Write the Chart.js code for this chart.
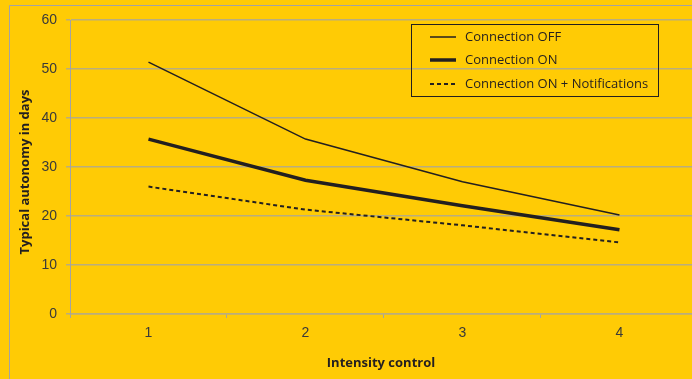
<!DOCTYPE html>
<html>
<head>
<meta charset="utf-8">
<script src="https://cdn.jsdelivr.net/npm/chart.js@4/dist/chart.umd.min.js"></script>
<style>
  html, body { margin: 0; padding: 0; background: #FFCB05; }
  #wrap { width: 692px; height: 379px; position: relative; }
</style>
</head>
<body>
<div id="wrap"><canvas id="chart" width="692" height="379"></canvas></div>
<script>
// Battery autonomy per intensity setting
const intensity = [1, 2, 3, 4];
const connectionOff = [51.4, 35.7, 27.0, 20.2];
const connectionOn = [35.7, 27.3, 22.1, 17.2];
const connectionOnNotif = [26.0, 21.3, 18.1, 14.6];
const seriesNames = ['Connection OFF', 'Connection ON', 'Connection ON + Notifications'];
const yTickValues = [0, 10, 20, 30, 40, 50, 60];
const yTitle = 'Typical autonomy in days';
const xTitle = 'Intensity control';

const INK = '#231f20';
const GRID = '#b9ad7e';
const AXIS = '#a3a3a3';
const BG = '#FFCB05';

const toPoints = vals => intensity.map((c, i) => ({ x: c, y: vals[i] }));

// Background fill and the thin outer frame
const framePlugin = {
  id: 'frame',
  beforeDraw(chart) {
    const ctx = chart.ctx;
    ctx.save();
    ctx.fillStyle = BG;
    ctx.fillRect(0, 0, chart.width, chart.height);
    ctx.strokeStyle = AXIS;
    ctx.lineWidth = 1;
    ctx.beginPath();
    ctx.moveTo(9.5, chart.height);
    ctx.lineTo(9.5, 5.5);
    ctx.lineTo(chart.width, 5.5);
    ctx.stroke();
    ctx.restore();
  }
};

// Rotated y-axis title, sitting slightly below the plot's vertical centre
const yTitlePlugin = {
  id: 'yTitle',
  afterDraw(chart, args, opts) {
    const ctx = chart.ctx;
    ctx.save();
    ctx.translate(opts.x, opts.y);
    ctx.rotate(-Math.PI / 2);
    ctx.font = 'bold 13px "Open Sans"';
    ctx.fillStyle = INK;
    ctx.textAlign = 'center';
    ctx.textBaseline = 'middle';
    ctx.fillText(yTitle, 0, 0);
    ctx.restore();
  }
};

// Boxed legend in the upper right of the plot
const boxLegendPlugin = {
  id: 'boxLegend',
  afterDatasetsDraw(chart, args, opts) {
    const ctx = chart.ctx;
    ctx.save();
    ctx.strokeStyle = INK;
    ctx.lineWidth = 1;
    ctx.strokeRect(opts.x + 0.5, opts.y + 0.5, opts.w, opts.h);
    ctx.font = '13px "Open Sans"';
    ctx.textBaseline = 'middle';
    ctx.fillStyle = INK;
    chart.data.datasets.forEach((ds, i) => {
      const ry = opts.rows[i];
      ctx.save();
      ctx.strokeStyle = ds.borderColor;
      ctx.lineWidth = ds.borderWidth;
      ctx.setLineDash(ds.borderDash || []);
      ctx.beginPath();
      ctx.moveTo(opts.sampleX, ry);
      ctx.lineTo(opts.sampleX + opts.sampleW, ry);
      ctx.stroke();
      ctx.restore();
      ctx.fillText(ds.label, opts.textX, ry + 0.5);
    });
    ctx.restore();
  }
};

new Chart(document.getElementById('chart'), {
  type: 'line',
  data: {
    datasets: [
      { label: seriesNames[0], data: toPoints(connectionOff), borderColor: INK, borderWidth: 1.5, pointRadius: 0, tension: 0 },
      { label: seriesNames[1], data: toPoints(connectionOn), borderColor: INK, borderWidth: 3.5, pointRadius: 0, tension: 0 },
      { label: seriesNames[2], data: toPoints(connectionOnNotif), borderColor: INK, borderWidth: 2, borderDash: [4, 3], pointRadius: 0, tension: 0 }
    ]
  },
  options: {
    responsive: false,
    animation: false,
    layout: { padding: { top: 20, right: 0, bottom: 0, left: 0 } },
    plugins: {
      legend: { display: false },
      tooltip: { enabled: false },
      yTitle: { x: 25, y: 172 },
      boxLegend: {
        x: 411, y: 24, w: 247, h: 72,
        rows: [37, 60, 84],
        sampleX: 430, sampleW: 26, textX: 465
      }
    },
    scales: {
      x: {
        type: 'linear',
        min: 0.5,
        max: 4.462,
        afterBuildTicks(scale) {
          const t = [];
          intensity.forEach(c => { t.push({ value: c - 0.5 }); t.push({ value: c }); });
          scale.ticks = t;
        },
        afterFit(scale) { scale.height = 65; },
        ticks: {
          autoSkip: false,
          maxRotation: 0,
          padding: 7,
          color: '#3a3a3a',
          font: { family: '"Liberation Sans", Arial, sans-serif', size: 14 },
          callback: v => Number.isInteger(v) ? String(v) : ''
        },
        grid: {
          drawOnChartArea: false,
          tickLength: 4,
          color: ctx => (ctx.tick && Number.isInteger(ctx.tick.value)) ? 'rgba(0,0,0,0)' : AXIS,
          lineWidth: 1
        },
        border: { display: true, color: GRID, width: 1.5 },
        title: {
          display: true,
          text: xTitle,
          color: INK,
          font: { family: '"Open Sans"', size: 13, weight: 'bold' },
          padding: { top: 0, bottom: 8 }
        }
      },
      y: {
        min: 0,
        max: 60,
        afterBuildTicks(scale) { scale.ticks = yTickValues.map(v => ({ value: v })); },
        afterFit(scale) { scale.width = 70; },
        ticks: {
          padding: 9,
          color: '#3a3a3a',
          font: { family: '"Liberation Sans", Arial, sans-serif', size: 14 }
        },
        grid: { color: GRID, lineWidth: 1.5, tickLength: 4 },
        border: { display: true, color: AXIS, width: 1 }
      }
    }
  },
  plugins: [framePlugin, yTitlePlugin, boxLegendPlugin]
});
</script>
</body>
</html>
